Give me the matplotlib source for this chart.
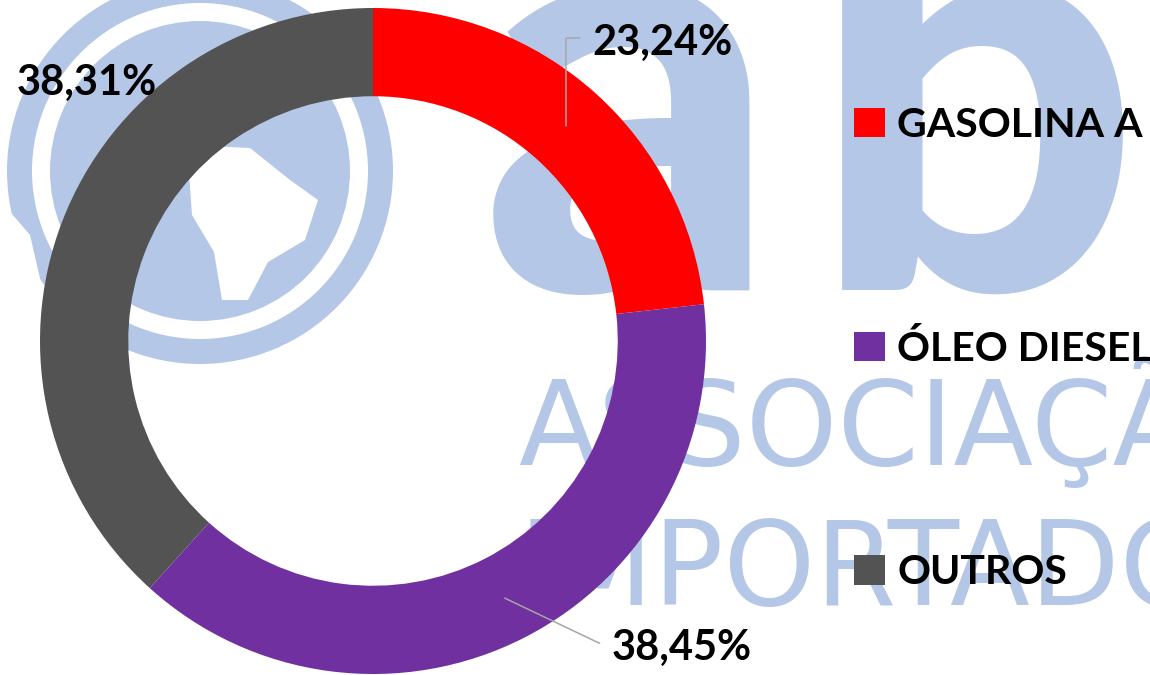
"""Gráfico de rosca com a participação de cada combustível nas importações."""

import numpy as np
import matplotlib.pyplot as plt
from matplotlib.patches import Circle, Wedge, Polygon

# Dados do gráfico
categorias = ["GASOLINA A", "ÓLEO DIESEL", "OUTROS"]
participacao = [23.24, 38.45, 38.31]
rotulos = ["23,24%", "38,45%", "38,31%"]
cores = ["#FF0000", "#7030A0", "#535353"]

W, H = 1150, 675
fig = plt.figure(figsize=(W / 100, H / 100), dpi=100)

# Marca d'água ao fundo (coordenadas em pixels)
ax_bg = fig.add_axes([0, 0, 1, 1])
ax_bg.set_xlim(0, W)
ax_bg.set_ylim(H, 0)
ax_bg.axis("off")
azul = "#B4C7E7"

# globo do logotipo
ax_bg.add_patch(Circle((200, 171), 193, color=azul, lw=0))
ax_bg.add_patch(Wedge((200, 171), 168, 0, 360, width=18, color="white", lw=0))
ax_bg.add_patch(Polygon([(187, 145), (250, 148), (290, 180), (318, 200), (305, 240),
                         (268, 262), (248, 300), (222, 300), (214, 252), (192, 215)],
                        color="white", lw=0))
ax_bg.add_patch(Polygon([(0, 200), (30, 235), (45, 300), (20, 300), (0, 260)],
                        color="white", lw=0))

# letras "ab" e texto da associação
ax_bg.text(630, 290, "a", fontsize=419, family="Lato", fontweight="black",
           color=azul, ha="center", va="baseline")
ax_bg.text(975, 290, "b", fontsize=419, family="Lato", fontweight="black",
           color=azul, ha="center", va="baseline")
ax_bg.text(518, 465, "ASSOCIAÇÃO", fontsize=84, family="DejaVu Sans",
           color=azul, ha="left", va="baseline")
ax_bg.text(518, 605, "IMPORTADORES", fontsize=84, family="DejaVu Sans",
           color=azul, ha="left", va="baseline")

# Rosca
cx, cy, R = 373, 341, 333
ax = fig.add_axes([(cx - R) / W, (H - cy - R) / H, 2 * R / W, 2 * R / H])
largura = 0.265
wedges, _ = ax.pie(participacao, colors=cores, startangle=90, counterclock=False,
                   radius=1, wedgeprops=dict(width=largura, linewidth=0))
ax.set_xlim(-1, 1)
ax.set_ylim(-1, 1)
ax.set_aspect("equal")

# Rótulos de porcentagem (posição do texto em unidades do raio)
pos_rotulos = [(0.658, 0.859), (0.718, -0.958), (-1.069, 0.739)]
conexoes = ["angle,angleA=0,angleB=90,rad=0",
            "arc,angleA=180,armA=13,angleB=0,armB=0,rad=0",
            None]
r_meio = 1 - largura / 2
fonte = dict(family="Lato", fontweight="bold", fontsize=30, color="black")

for w, txt, pos, con in zip(wedges, rotulos, pos_rotulos, conexoes):
    ang = np.deg2rad((w.theta1 + w.theta2) / 2)
    ancora = (r_meio * np.cos(ang), r_meio * np.sin(ang))
    seta = None
    if con:
        seta = dict(arrowstyle="-", color="#A6A6A6", lw=1.1, relpos=(0, 0.63),
                    connectionstyle=con, shrinkA=7, shrinkB=0)
    ax.annotate(txt, xy=ancora, xytext=pos, ha="left", va="baseline",
                arrowprops=seta, annotation_clip=False, **fonte)

# Legenda
ax.legend(wedges, categorias, loc="center left",
          bbox_to_anchor=(854 / W, 1 - 349 / H), bbox_transform=fig.transFigure,
          frameon=False, prop=dict(family="Lato", weight="bold", size=29.5),
          handlelength=0.75, handleheight=0.73, handletextpad=0.3,
          labelspacing=4.55, borderpad=0, borderaxespad=0)

fig.savefig("out.png", dpi=100)
